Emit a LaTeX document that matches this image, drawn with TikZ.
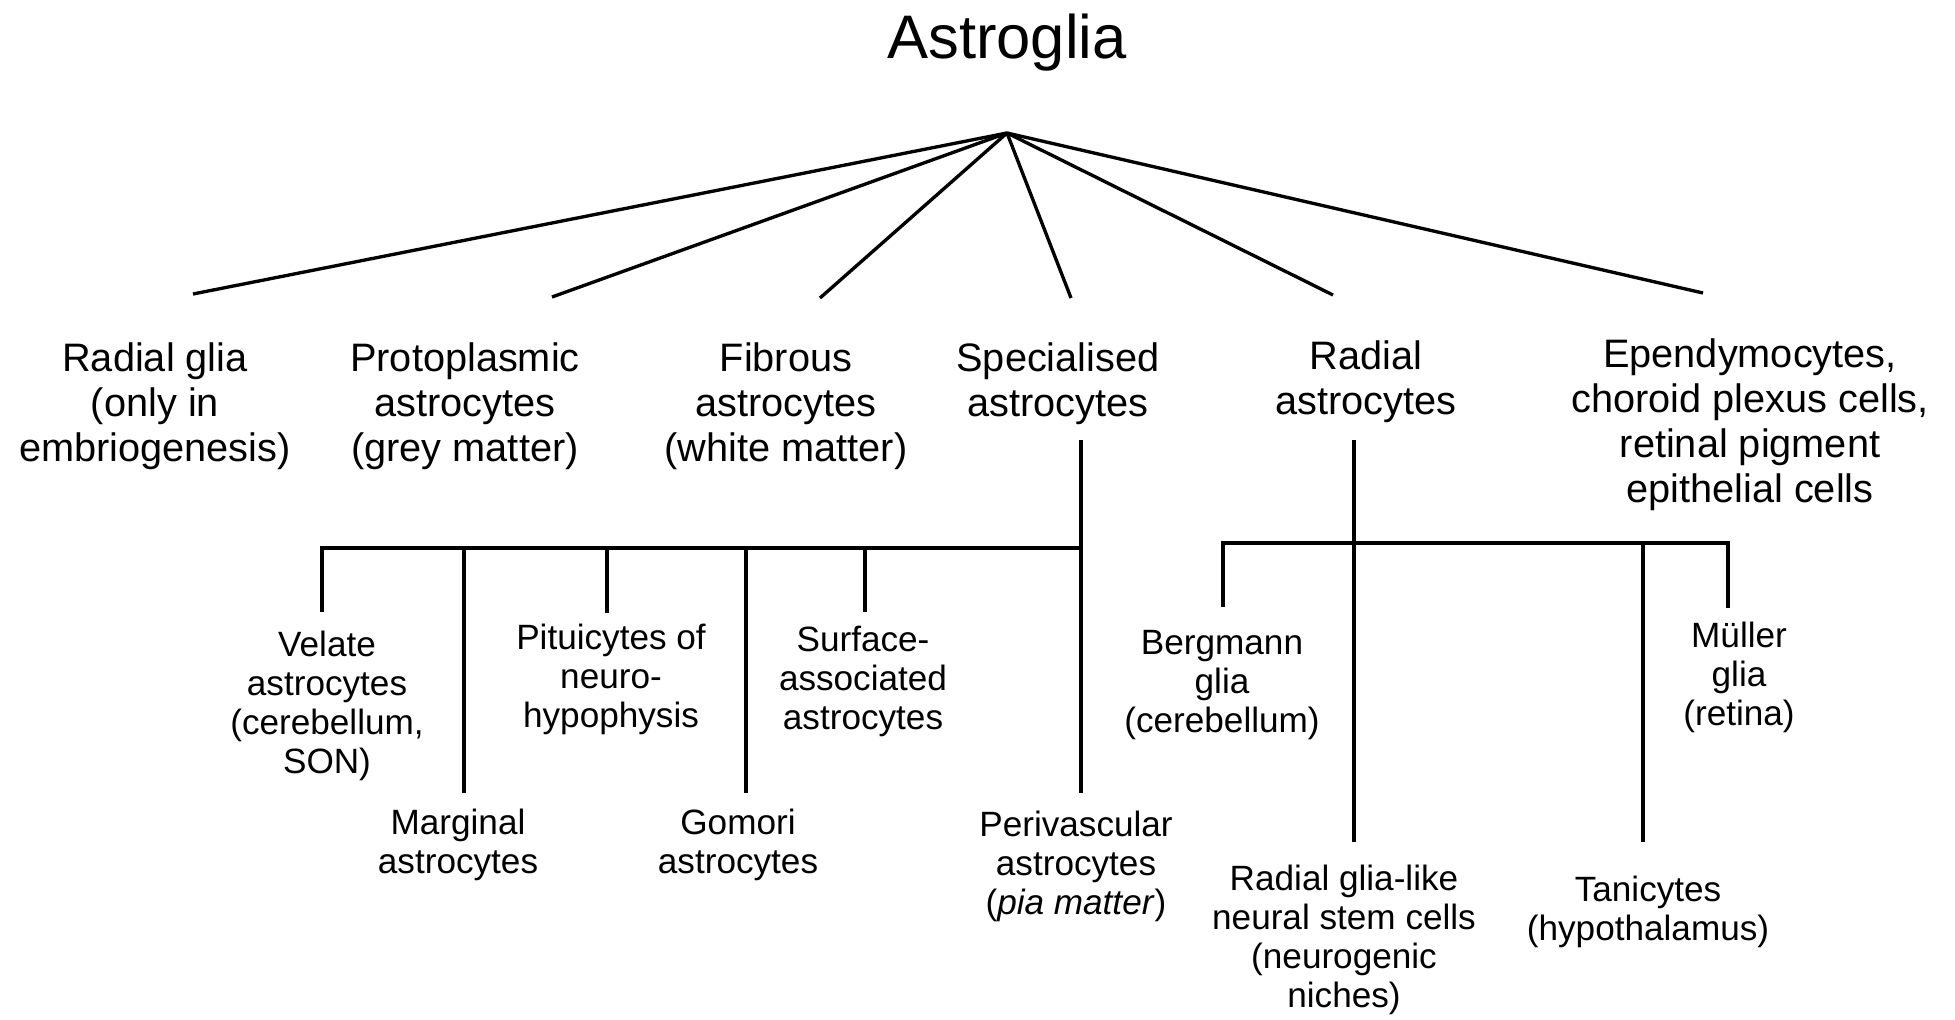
\documentclass[tikz,border=0pt]{standalone}
\usepackage{fontspec}
\setmainfont{Liberation Sans}
\usepackage{tikz}

\begin{document}
\begin{tikzpicture}[
    title/.style  = {font=\fontsize{17.5}{20}\selectfont, inner sep=0pt},
    cls/.style    = {align=center, inner sep=0pt, anchor=north,
                     font=\fontsize{11.3}{12.8}\selectfont},
    sub/.style    = {align=center, inner sep=0pt, anchor=north,
                     font=\fontsize{10}{11.1}\selectfont},
    branch/.style = {line width=0.95pt}
]
\useasboundingbox (0,0) rectangle (19.55,-10.19);

%% ---- ROOT ----
\node[title, anchor=base] (astroglia) at (10.07,-0.59) {Astroglia};
\coordinate (apex) at (10.07,-1.33);

%% ---- FIRST LEVEL ----
\node[cls] (radglia)  at (1.55, -3.42) {Radial glia\\(only in\\embriogenesis)};
\node[cls] (proto)    at (4.65, -3.42) {Protoplasmic\\astrocytes\\(grey matter)};
\node[cls] (fibrous)  at (7.86, -3.42) {Fibrous\\astrocytes\\(white matter)};
\node[cls] (spec)     at (10.58,-3.42) {Specialised\\astrocytes};
\node[cls] (radastro) at (13.66,-3.40) {Radial\\astrocytes};
\node[cls] (epend)    at (17.50,-3.38) {Ependymocytes,\\choroid plexus cells,\\retinal pigment\\epithelial cells};

%% line ends above the first level
\coordinate (t-radglia)  at (1.93, -2.94);
\coordinate (t-proto)    at (5.52, -2.97);
\coordinate (t-fibrous)  at (8.20, -2.98);
\coordinate (t-spec)     at (10.71,-2.98);
\coordinate (t-radastro) at (13.33,-2.95);
\coordinate (t-epend)    at (17.03,-2.93);

\draw[branch] (apex) -- (t-radglia);
\draw[branch] (apex) -- (t-proto);
\draw[branch] (apex) -- (t-fibrous);
\draw[branch] (apex) -- (t-spec);
\draw[branch] (apex) -- (t-radastro);
\draw[branch] (apex) -- (t-epend);

%% ---- SPECIALISED ASTROCYTES ----
\node[sub] (velate)   at (3.27, -6.30) {Velate\\astrocytes\\(cerebellum,\\SON)};
\node[sub] (marginal) at (4.58, -8.08) {Marginal\\astrocytes};
\node[sub] (pitui)    at (6.11, -6.23) {Pituicytes of\\neuro-\\hypophysis};
\node[sub] (gomori)   at (7.38, -8.08) {Gomori\\astrocytes};
\node[sub] (surface)  at (8.63, -6.25) {Surface-\\associated\\astrocytes};
\node[sub] (perivasc) at (10.76,-8.10) {Perivascular\\astrocytes\\(\textit{pia matter})};

\coordinate (spec-top)   at (10.81,-4.40);
\coordinate (spec-bar)   at (10.81,-5.48);
\coordinate (d-velate)   at (3.22, -6.12);
\coordinate (d-marginal) at (4.64, -7.93);
\coordinate (d-pitui)    at (6.07, -6.13);
\coordinate (d-gomori)   at (7.46, -7.93);
\coordinate (d-surface)  at (8.65, -6.12);
\coordinate (d-perivasc) at (10.81,-7.93);

\draw[branch] (spec-top) -- (d-perivasc);
\draw[branch] (d-velate) |- (spec-bar);
\draw[branch] (d-marginal) -- (d-marginal |- spec-bar);
\draw[branch] (d-pitui)    -- (d-pitui |- spec-bar);
\draw[branch] (d-gomori)   -- (d-gomori |- spec-bar);
\draw[branch] (d-surface)  -- (d-surface |- spec-bar);

%% ---- RADIAL ASTROCYTES ----
\node[sub] (bergmann) at (12.22,-6.30) {Bergmann\\glia\\(cerebellum)};
\node[sub] (muller)   at (17.39,-6.21) {Müller\\glia\\(retina)};
\node[sub] (rglike)   at (13.44,-8.64) {Radial glia-like\\neural stem cells\\(neurogenic\\niches)};
\node[sub] (tany)     at (16.48,-8.75) {Tanicytes\\(hypothalamus)};

\coordinate (rad-top)    at (13.54,-4.40);
\coordinate (rad-bar)    at (13.54,-5.43);
\coordinate (d-rglike)   at (13.54,-8.42);
\coordinate (d-bergmann) at (12.23,-6.07);
\coordinate (d-muller)   at (17.28,-6.08);
\coordinate (d-tany)     at (16.43,-8.42);

\draw[branch] (rad-top) -- (d-rglike);
\draw[branch] (d-bergmann) |- (d-muller |- rad-bar) -- (d-muller);
\draw[branch] (d-tany) -- (d-tany |- rad-bar);

\end{tikzpicture}
\end{document}
